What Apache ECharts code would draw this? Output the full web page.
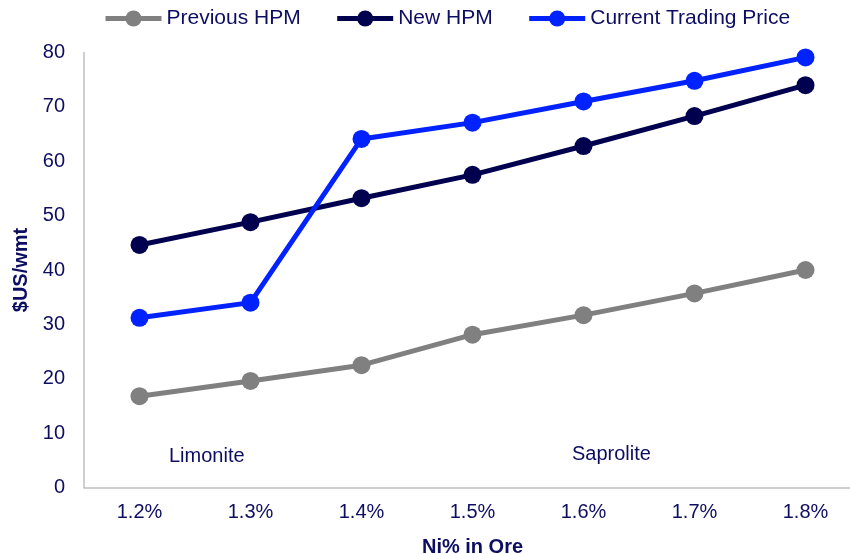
<!DOCTYPE html>
<html>
<head>
<meta charset="utf-8">
<script src="https://cdn.jsdelivr.net/npm/echarts@6/dist/echarts.min.js"></script>
<style>
  html, body { margin: 0; padding: 0; background: #fff; }
  #chart { width: 850px; height: 554px; }
</style>
</head>
<body>
<div id="chart"></div>
<script>
// Ni grade categories
var grades = ['1.2%', '1.3%', '1.4%', '1.5%', '1.6%', '1.7%', '1.8%']
// $US/wmt
var previousHPM = [16.8, 19.6, 22.5, 28.1, 31.7, 35.7, 40.0]
var newHPM = [44.6, 48.8, 53.2, 57.5, 62.8, 68.3, 74.0]
var currentPrice = [31.2, 34.0, 64.1, 67.1, 71.0, 74.8, 79.1]

var textColor = '#0d0d62'
var font = '"Liberation Sans", Arial, sans-serif'

function lineSeries(name, data, color) {
    return {
        name: name,
        type: 'line',
        data: data,
        symbol: 'circle',
        symbolSize: 18,
        lineStyle: { color: color, width: 5 },
        itemStyle: { color: color },
        emphasis: { disabled: true }
    }
}

var myChart = echarts.init(document.getElementById('chart'))
myChart.setOption({
    animation: false,
    textStyle: { fontFamily: font },
    legend: {
        left: 98,
        top: 3,
        itemWidth: 56,
        itemHeight: 20,
        itemGap: 34,
        lineStyle: { width: 5 },
        textStyle: { color: textColor, fontSize: 21, fontFamily: font },
        data: ['Previous HPM', 'New HPM', 'Current Trading Price']
    },
    grid: {
        left: 84,
        top: 52.5,
        width: 777,
        height: 435,
        outerBoundsMode: 'none'
    },
    xAxis: {
        type: 'category',
        data: grades,
        name: 'Ni% in Ore',
        nameLocation: 'middle',
        nameGap: 50,
        nameTextStyle: { color: textColor, fontSize: 20, fontWeight: 'bold', fontFamily: font },
        axisLine: { lineStyle: { color: '#bfbfbf', width: 1.5 } },
        axisTick: { show: false },
        axisLabel: { color: textColor, fontSize: 20, margin: 15, fontFamily: font }
    },
    yAxis: {
        type: 'value',
        min: 0,
        max: 80,
        interval: 10,
        name: '$US/wmt',
        nameLocation: 'middle',
        nameGap: 48,
        nameTextStyle: { color: textColor, fontSize: 20, fontWeight: 'bold', fontFamily: font },
        splitLine: { show: false },
        axisLine: { show: true, lineStyle: { color: '#bfbfbf', width: 1.5 } },
        axisTick: { show: false },
        axisLabel: { color: textColor, fontSize: 20, margin: 19, fontFamily: font }
    },
    graphic: [
        { type: 'text', left: 169, top: 446, style: { text: 'Limonite', fill: textColor, font: '20px ' + font } },
        { type: 'text', left: 572, top: 444, style: { text: 'Saprolite', fill: textColor, font: '20px ' + font } }
    ],
    series: [
        lineSeries('Previous HPM', previousHPM, '#808080'),
        lineSeries('New HPM', newHPM, '#00004f'),
        lineSeries('Current Trading Price', currentPrice, '#0022ff')
    ]
})
</script>
</body>
</html>
